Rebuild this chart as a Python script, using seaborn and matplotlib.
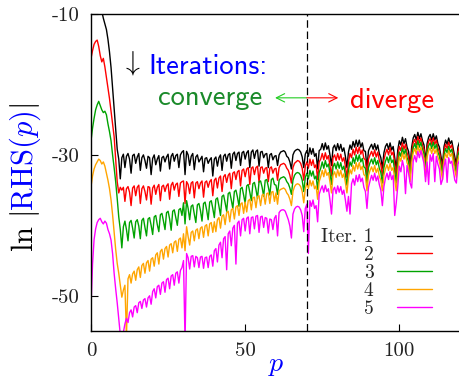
import numpy as np
import pandas as pd
import matplotlib
matplotlib.use("Agg")
import matplotlib.pyplot as plt
import seaborn as sns

# ln|RHS(p)| for the first five iterations, sampled every 0.5 in p (0 ... 120)
p = np.arange(0, 120.5, 0.5)

iter1 = [
    -6.0, -5.6, -5.3, -5.2, -5.6, -6.4, -7.8, -9.6, -10.6, -11.4, -12.2, -13.6, -15.4, -17.6, -20.4, -23.4, -26.4, -29.2, -30.6, -33.4,
    -30.4, -29.9, -31.8, -30.2, -29.8, -30.6, -32.6, -30.1, -29.9, -31.2, -30.3, -29.8, -32.2, -30.4, -30.0, -30.8, -31.9, -30.2, -30.4, -32.8,
    -30.5, -30.0, -31.4, -30.6, -30.1, -32.3, -30.4, -30.2, -31.0, -30.3, -29.9, -32.0, -30.2, -29.8, -30.9, -30.1, -29.9, -31.8, -30.0, -29.6,
    -29.4, -32.8, -29.5, -30.0, -31.5, -30.2, -29.8, -32.1, -30.3, -30.0, -31.0, -30.6, -30.2, -32.4, -30.5, -30.4, -31.2, -30.7, -30.4, -33.0,
    -30.6, -30.3, -31.6, -30.4, -30.0, -32.2, -30.2, -29.9, -30.9, -30.0, -29.8, -31.9, -29.9, -29.6, -30.8, -29.8, -29.6, -31.5, -29.7, -29.5,
    -30.6, -29.7, -29.4, -31.8, -29.6, -29.3, -30.5, -29.5, -29.3, -31.6, -29.6, -29.5, -30.4, -29.9, -29.8, -31.8, -30.0, -29.8, -30.7, -30.2,
    -30.1, -31.5, -30.0, -29.6, -29.5, -29.4, -29.6, -30.2, -30.4, -31.0, -32.0, -30.0, -29.5, -29.3, -29.2, -29.3, -29.6, -30.3, -31.8, -29.9,
    -29.4, -30.2, -29.0, -29.9, -29.1, -30.2, -29.8, -32.0, -29.4, -29.2, -28.4, -29.3, -28.3, -29.2, -28.7, -30.0, -31.5, -29.0, -28.6, -29.4,
    -28.4, -29.3, -28.5, -29.5, -29.0, -30.2, -31.8, -29.6, -28.6, -29.2, -28.1, -28.9, -27.9, -28.8, -27.9, -28.9, -28.3, -29.4, -29.5, -31.8,
    -29.4, -28.9, -28.5, -29.2, -28.4, -29.3, -28.6, -29.8, -30.4, -31.9, -29.7, -28.8, -28.4, -29.2, -28.3, -29.3, -28.8, -30.4, -32.0, -29.3,
    -28.0, -28.6, -27.5, -28.4, -27.7, -28.9, -29.5, -31.5, -28.9, -27.6, -27.1, -27.9, -26.8, -27.7, -27.0, -28.0, -28.6, -31.0, -28.4, -27.5,
    -27.1, -27.9, -27.0, -27.9, -27.3, -28.4, -28.9, -30.2, -31.5, -28.8, -27.9, -28.5, -27.6, -28.4, -28.0, -29.2, -30.3, -31.4, -28.9, -28.2,
    -28.0,
]
iter2 = [
    -16.3, -15.2, -14.3, -13.9, -13.7, -14.6, -15.9, -16.8, -16.3, -17.5, -19.0, -20.6, -22.0, -23.8, -25.6, -27.4, -30.5, -33.8, -35.4, -34.6,
    -35.0, -34.6, -36.6, -34.8, -34.5, -35.3, -37.2, -34.7, -34.4, -35.8, -34.6, -34.3, -36.9, -34.8, -34.4, -35.2, -36.4, -34.5, -34.6, -37.0,
    -34.7, -34.3, -35.6, -34.6, -34.2, -36.5, -34.5, -34.3, -35.2, -34.4, -34.1, -36.3, -34.3, -33.9, -35.0, -34.2, -34.0, -35.9, -34.0, -33.8,
    -33.7, -36.9, -33.8, -34.2, -35.5, -34.0, -33.8, -36.1, -34.0, -33.8, -34.8, -34.0, -33.7, -36.0, -33.9, -33.7, -34.6, -33.8, -33.5, -35.8,
    -33.6, -33.3, -34.7, -33.3, -33.0, -35.2, -33.1, -32.8, -33.9, -32.9, -32.6, -34.8, -32.6, -32.4, -33.5, -32.4, -32.2, -34.4, -32.2, -32.0,
    -33.1, -32.0, -31.8, -34.2, -31.9, -31.7, -32.8, -31.8, -31.6, -33.9, -31.8, -31.7, -32.6, -31.9, -31.8, -33.8, -31.9, -31.7, -32.6, -32.0,
    -31.9, -33.6, -31.8, -31.4, -31.3, -31.2, -31.4, -31.9, -32.2, -32.9, -34.0, -31.8, -31.2, -31.0, -30.8, -30.9, -31.2, -31.9, -33.6, -31.6,
    -31.0, -31.9, -30.6, -31.5, -30.7, -31.8, -31.4, -33.5, -31.0, -30.6, -29.8, -30.7, -29.7, -30.6, -30.1, -31.5, -33.0, -30.4, -30.0, -30.8,
    -29.8, -30.7, -29.9, -30.9, -30.4, -31.6, -33.2, -31.0, -29.8, -30.4, -29.2, -30.0, -28.9, -29.8, -28.9, -29.9, -29.3, -30.5, -30.7, -33.0,
    -30.6, -30.0, -29.5, -30.2, -29.3, -30.3, -29.6, -30.8, -31.4, -33.0, -30.7, -29.8, -29.2, -30.0, -29.0, -30.0, -29.6, -31.3, -33.0, -30.2,
    -28.8, -29.4, -28.3, -29.2, -28.5, -29.7, -30.3, -32.4, -29.7, -28.3, -27.8, -28.6, -27.4, -28.3, -27.6, -28.6, -29.2, -31.8, -29.0, -28.1,
    -27.7, -28.5, -27.6, -28.5, -27.9, -29.0, -29.6, -30.9, -32.2, -29.4, -28.5, -29.1, -28.2, -29.0, -28.6, -29.8, -31.0, -32.0, -29.5, -28.8,
    -28.6,
]
iter3 = [
    -28.0, -26.2, -24.8, -23.6, -22.9, -22.4, -23.0, -23.6, -24.0, -23.8, -24.3, -25.6, -26.7, -28.0, -30.0, -31.8, -33.8, -36.2, -38.8, -40.6,
    -43.2, -40.2, -39.4, -40.6, -42.2, -39.6, -39.3, -40.4, -41.8, -39.5, -39.2, -40.1, -41.9, -39.3, -39.0, -40.3, -41.5, -39.1, -38.9, -40.0,
    -41.3, -38.8, -38.6, -39.9, -40.9, -38.5, -38.3, -39.4, -40.6, -38.2, -38.0, -39.1, -40.7, -38.0, -37.8, -38.9, -40.0, -37.8, -37.6, -38.6,
    -36.8, -39.8, -36.5, -37.6, -39.2, -37.3, -37.1, -38.4, -39.6, -37.1, -36.9, -37.9, -39.4, -36.9, -36.7, -37.8, -39.2, -36.7, -36.5, -37.6,
    -38.9, -36.3, -36.1, -37.3, -38.6, -35.9, -35.7, -36.8, -38.0, -35.5, -35.3, -36.4, -37.6, -35.2, -35.0, -36.0, -37.3, -34.8, -34.6, -35.7,
    -36.9, -34.4, -34.2, -35.3, -36.5, -34.1, -33.9, -34.9, -36.2, -33.8, -33.7, -34.6, -35.9, -33.6, -33.5, -34.5, -35.7, -33.5, -33.3, -34.2,
    -34.3, -35.6, -33.6, -33.3, -33.2, -33.1, -33.3, -33.8, -34.1, -34.7, -35.6, -33.6, -32.9, -32.6, -32.5, -32.6, -32.9, -33.6, -35.2, -33.2,
    -32.6, -33.4, -32.2, -33.0, -32.3, -33.4, -33.0, -34.9, -32.5, -31.9, -31.0, -31.9, -30.8, -31.7, -31.3, -32.6, -34.2, -31.7, -31.2, -32.0,
    -31.0, -31.9, -31.1, -32.1, -31.6, -32.8, -34.3, -32.2, -31.0, -31.6, -30.4, -31.2, -30.0, -30.9, -30.0, -31.0, -30.5, -31.7, -31.9, -34.0,
    -31.8, -31.1, -30.6, -31.3, -30.4, -31.4, -30.8, -31.9, -32.5, -34.0, -31.8, -30.9, -30.3, -31.1, -30.1, -31.1, -30.7, -32.4, -34.0, -31.3,
    -29.6, -30.2, -29.0, -29.9, -29.2, -30.4, -31.0, -33.1, -30.4, -29.0, -28.4, -29.2, -28.0, -28.9, -28.2, -29.2, -29.8, -32.4, -29.6, -28.7,
    -28.3, -29.1, -28.2, -29.1, -28.5, -29.6, -30.2, -31.5, -32.8, -30.0, -29.1, -29.7, -28.8, -29.6, -29.2, -30.4, -31.6, -32.6, -30.1, -29.4,
    -29.2,
]
iter4 = [
    -34.5, -33.0, -32.0, -31.4, -31.0, -30.6, -30.8, -31.3, -31.0, -31.6, -32.6, -33.6, -34.8, -36.4, -38.5, -41.0, -43.4, -45.4, -46.8, -48.5,
    -50.2, -49.2, -48.5, -55.8, -47.6, -47.0, -48.2, -46.9, -46.5, -47.8, -46.3, -45.9, -47.4, -45.7, -45.4, -46.8, -45.3, -45.0, -46.5, -44.8,
    -44.6, -45.8, -44.2, -43.9, -45.5, -43.7, -43.4, -44.8, -43.3, -43.0, -44.5, -42.8, -42.6, -43.9, -42.4, -42.2, -43.7, -42.0, -41.8, -43.2,
    -41.2, -43.6, -40.2, -41.6, -42.8, -41.0, -40.8, -42.2, -40.7, -40.5, -41.9, -40.4, -40.2, -41.7, -40.1, -39.9, -41.5, -39.8, -39.6, -41.0,
    -39.5, -40.9, -39.2, -38.9, -40.4, -38.7, -38.5, -39.9, -38.2, -38.0, -39.5, -37.8, -37.6, -39.1, -37.4, -37.2, -38.6, -37.0, -36.8, -38.3,
    -36.7, -38.1, -36.5, -36.3, -37.8, -36.1, -36.0, -37.5, -35.9, -35.8, -37.2, -35.7, -35.6, -37.0, -35.5, -35.4, -36.9, -35.3, -35.2, -36.6,
    -35.4, -37.0, -35.1, -34.9, -34.8, -34.7, -34.9, -35.4, -35.7, -36.3, -37.2, -35.2, -34.5, -34.2, -34.1, -34.2, -34.5, -35.2, -36.8, -34.8,
    -34.0, -34.8, -33.6, -34.4, -33.7, -34.8, -34.4, -36.3, -33.8, -33.1, -32.2, -33.1, -32.0, -32.9, -32.5, -33.8, -35.4, -32.9, -32.4, -33.2,
    -32.1, -33.0, -32.2, -33.2, -32.7, -33.9, -35.4, -33.3, -32.1, -32.7, -31.5, -32.3, -31.1, -32.0, -31.1, -32.1, -31.6, -32.8, -33.0, -35.1,
    -32.9, -32.2, -31.7, -32.4, -31.5, -32.5, -31.9, -33.0, -33.6, -35.1, -32.9, -32.0, -31.4, -32.2, -31.2, -32.2, -31.8, -33.5, -35.1, -32.4,
    -30.3, -30.9, -29.7, -30.6, -29.9, -31.1, -31.7, -33.8, -31.1, -29.7, -29.1, -29.9, -28.7, -29.6, -28.9, -29.9, -30.5, -33.1, -30.3, -29.4,
    -29.0, -29.8, -28.9, -29.8, -29.2, -30.3, -30.9, -32.2, -33.5, -30.7, -29.8, -30.4, -29.4, -30.2, -29.8, -31.0, -32.2, -33.2, -30.7, -30.0,
    -29.8,
]
iter5 = [
    -51.5, -45.5, -42.0, -40.5, -39.6, -39.2, -39.0, -39.5, -39.8, -39.4, -39.7, -40.6, -41.2, -42.1, -44.0, -46.8, -49.0, -51.0, -53.2, -55.5,
    -56.0, -55.2, -54.0, -53.2, -53.8, -52.4, -52.0, -53.0, -51.6, -51.4, -52.4, -51.0, -50.8, -51.8, -50.6, -50.4, -51.6, -50.3, -50.0, -51.2,
    -49.4, -49.0, -50.3, -48.7, -48.5, -49.8, -48.2, -48.0, -49.5, -47.7, -47.5, -49.0, -47.2, -47.0, -48.5, -46.8, -46.6, -48.2, -46.4, -46.0,
    -45.0, -56.5, -44.0, -44.6, -46.2, -44.4, -44.3, -45.9, -44.4, -44.6, -46.0, -44.5, -44.4, -46.1, -44.6, -44.5, -46.0, -44.4, -44.2, -45.8,
    -43.6, -43.3, -45.2, -42.8, -42.4, -44.6, -41.9, -41.6, -46.3, -41.2, -40.8, -42.9, -40.4, -40.0, -45.5, -39.7, -39.4, -41.5, -39.2, -39.0,
    -40.8, -39.0, -38.8, -41.2, -38.9, -38.8, -40.5, -38.7, -38.6, -41.0, -38.8, -38.7, -40.3, -38.9, -39.0, -41.1, -39.1, -39.2, -40.6, -39.0,
    -38.6, -41.5, -38.2, -37.9, -37.8, -37.8, -38.0, -38.6, -39.2, -40.1, -41.8, -38.4, -37.7, -37.4, -37.3, -37.4, -37.8, -38.6, -40.9, -37.6,
    -37.0, -44.0, -36.5, -37.3, -36.4, -37.6, -37.2, -39.5, -35.6, -34.9, -34.4, -35.3, -34.3, -35.2, -34.8, -36.4, -38.4, -35.0, -34.6, -35.5,
    -34.4, -35.3, -34.5, -35.6, -35.0, -36.4, -38.0, -35.9, -38.4, -34.1, -33.4, -34.3, -32.9, -33.8, -32.8, -33.8, -33.3, -34.6, -35.2, -37.6,
    -34.6, -33.7, -32.9, -33.6, -32.6, -33.7, -33.0, -34.2, -35.0, -37.2, -34.5, -33.3, -32.6, -33.5, -32.4, -33.5, -32.9, -38.6, -36.8, -34.4,
    -31.6, -32.4, -30.8, -31.8, -35.5, -31.5, -32.6, -34.0, -34.7, -30.9, -30.1, -31.0, -29.5, -30.4, -29.4, -30.3, -31.2, -33.8, -31.0, -34.2,
    -30.0, -30.9, -29.8, -33.8, -30.2, -31.3, -32.0, -34.2, -33.5, -31.6, -30.6, -33.9, -30.4, -31.2, -30.9, -32.2, -33.6, -34.0, -31.3, -30.8,
    -30.6,
]

labels = ["Iter. 1", "2", "3", "4", "5"]
colors = ["black", "red", "#00a300", "orange", "magenta"]

series = [iter1, iter2, iter3, iter4, iter5]
for s in series:
    assert len(s) == len(p), len(s)

df = pd.concat([pd.DataFrame({"p": p, "val": s, "iter": lab}) for s, lab in zip(series, labels)],
               ignore_index=True)

sns.set_theme(style="ticks")
plt.rcParams["mathtext.fontset"] = "cm"
plt.rcParams["axes.unicode_minus"] = False

fig = plt.figure(figsize=(4.59, 3.79), dpi=100)
ax = fig.add_axes([91 / 459, 1 - 331 / 379, 370 / 459, 317 / 379])

sns.lineplot(data=df, x="p", y="val", hue="iter", hue_order=labels, palette=colors,
             estimator=None, sort=False, lw=1.0, ax=ax)

ax.axvline(70, color="black", lw=0.9, ls=(0, (6, 3)))

ax.set_xlim(0, 120)
ax.set_ylim(-55, -10)
ax.set_xticks([0, 50, 100])
ax.set_xticklabels(["0", "50", "100"])
ax.set_yticks([-10, -30, -50])
ax.set_yticklabels(["-10", "-30", "-50"])
ax.tick_params(direction="in", length=5, width=0.8, color="black", labelsize=15, pad=8)
for tl in ax.get_xticklabels() + ax.get_yticklabels():
    tl.set_fontfamily("cmr10")
    tl.set_color("#222222")
for sp in ax.spines.values():
    sp.set_color("black")
    sp.set_linewidth(1.0)

ax.set_xlabel(r"$p$", color="blue", fontsize=20, labelpad=-7)
ax.set_ylabel("")

# y label in three colours
t1 = fig.text(25 / 459, 1 - 252 / 379, r"$\ln\,|$", rotation=90, fontsize=22,
              ha="center", va="bottom", color="black")
t2 = ax.annotate(r"$\mathrm{RHS}(p)$", xy=(0.5, 1), xycoords=t1, rotation=90, fontsize=22,
                 ha="center", va="bottom", color="blue")
ax.annotate(r"$|$", xy=(0.5, 1), xycoords=t2, rotation=90, fontsize=22,
            ha="center", va="bottom", color="black")

# annotations
ax.text(13, -17.0, r"$\downarrow$", fontsize=20, ha="center", va="center", color="black")
ax.text(18.5, -18.5, "Iterations:", family="cmss10", fontsize=20.5, color="blue",
        ha="left", va="baseline")
ax.text(38.6, -22.9, "converge", family="cmss10", fontsize=20.5, color="#1a8a2a",
        ha="center", va="baseline")
ax.text(97.7, -23.3, "diverge", family="cmss10", fontsize=20.5, color="red",
        ha="center", va="baseline")
ax.annotate("", xy=(59.7, -21.9), xytext=(70, -21.9),
            arrowprops=dict(arrowstyle="->,head_length=0.5,head_width=0.25", color="#22cc22",
                            lw=0.8, shrinkA=0, shrinkB=0))
ax.annotate("", xy=(80.2, -21.9), xytext=(70, -21.9),
            arrowprops=dict(arrowstyle="->,head_length=0.5,head_width=0.25", color="red",
                            lw=0.8, shrinkA=0, shrinkB=0))

handles, labs = ax.get_legend_handles_labels()
ax.legend(handles, labs, markerfirst=False, frameon=False, loc="lower right",
          bbox_to_anchor=(432 / 459, 1 - 318 / 379), bbox_transform=fig.transFigure,
          prop={"family": "cmr10", "size": 14}, handlelength=1.8, handletextpad=1.2,
          labelspacing=0.0, borderpad=0, borderaxespad=0)

fig.savefig("out.png", dpi=100)
